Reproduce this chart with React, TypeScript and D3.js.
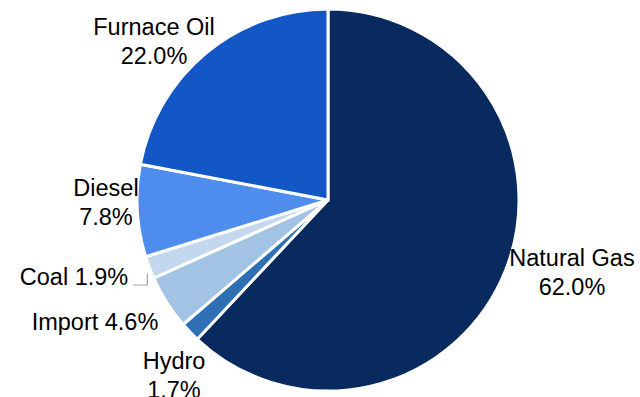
import React, { useEffect } from "react";
import * as d3 from "d3";

const categories = ["Natural Gas", "Hydro", "Import", "Coal", "Diesel", "Furnace Oil"];
const shares = [62.0, 1.7, 4.6, 1.9, 7.8, 22.0];
const colors = ["#082a5e", "#2f6fb3", "#a2c3e3", "#c3d8ee", "#4e8ded", "#1257c5"];

// label layout (lines, anchor position)
const labelLines = [
  ["Natural Gas", "62.0%"],
  ["Hydro", "1.7%"],
  ["Import 4.6%"],
  ["Coal 1.9%"],
  ["Diesel", "7.8%"],
  ["Furnace Oil", "22.0%"],
];
const labelPos: [number, number][] = [
  [572, 266],
  [174, 369],
  [95, 330],
  [74, 285],
  [106, 196],
  [154, 35],
];

const W = 640;
const H = 397;
const cx = 328;
const cy = 200;
const R = 191;

export default function App() {
  useEffect(() => {
    document.body.style.margin = "0";
  }, []);
  const pie = d3
    .pie<number>()
    .sort(null)
    .value((d) => d);
  const arcs = pie(shares);
  const arcGen = d3.arc<d3.PieArcDatum<number>>().innerRadius(0).outerRadius(R);
  const coal = arcs[3];
  const coalMid = (coal.startAngle + coal.endAngle) / 2;
  const lx = R * Math.sin(coalMid) + 2;
  const ly = -R * Math.cos(coalMid) + 6;
  return (
    <svg width={W} height={H} style={{ display: "block" }}>
      <rect width={W} height={H} fill="#ffffff" />
      <g transform={`translate(${cx},${cy})`}>
        {arcs.map((a, i) => (
          <path key={i} d={arcGen(a) || ""} fill={colors[i]} stroke="#ffffff" strokeWidth={3} strokeLinejoin="miter" />
        ))}
        <polyline
          points={`${-cx + 133},${-cy + 285} ${lx - 4},${-cy + 285} ${lx - 4},${ly}`}
          fill="none"
          stroke="#a6a6a6"
          strokeWidth={1.2}
        />
      </g>
      <g fontFamily="'Liberation Sans', Arial, sans-serif" fontSize={23.5} fill="#000000" textAnchor="middle">
        {labelLines.map((lines, i) => (
          <text key={i} x={labelPos[i][0]} y={labelPos[i][1]}>
            {lines.map((l, j) => (
              <tspan key={j} x={labelPos[i][0]} dy={j === 0 ? 0 : 28.5}>
                {l}
              </tspan>
            ))}
          </text>
        ))}
      </g>
    </svg>
  );
}
